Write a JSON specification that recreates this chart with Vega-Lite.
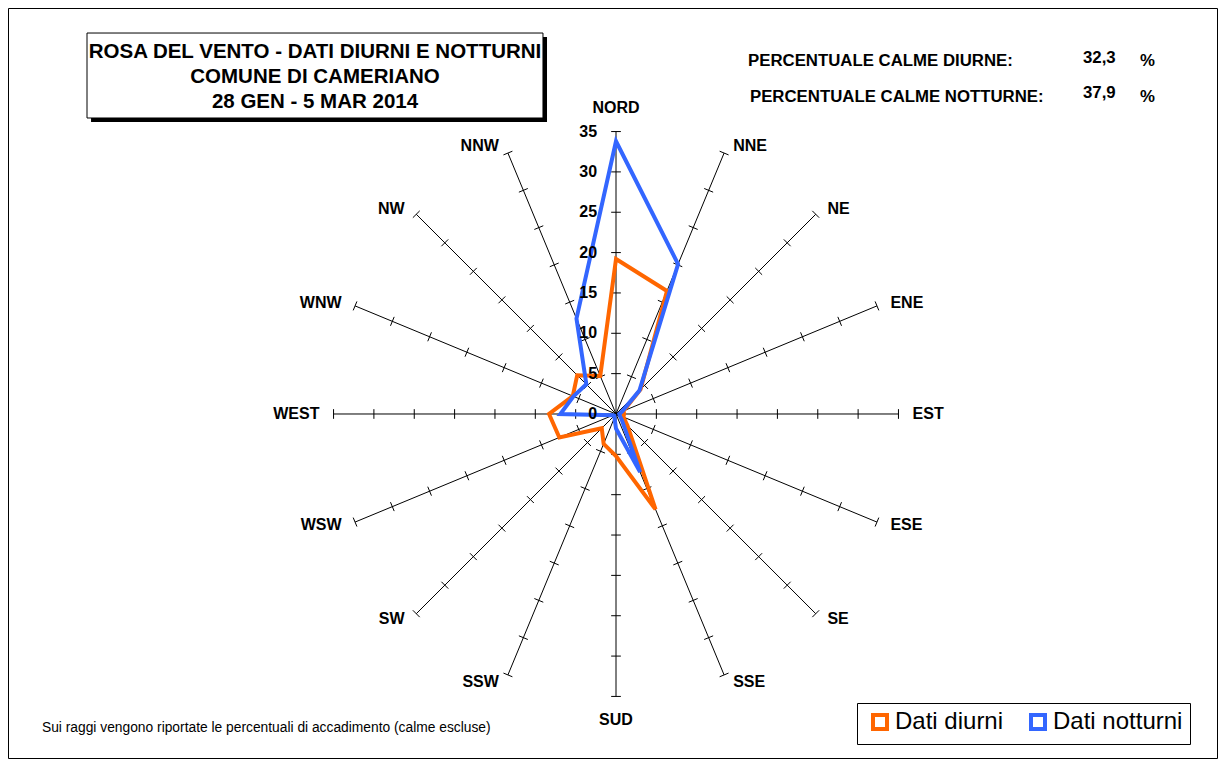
{
  "$schema": "https://vega.github.io/schema/vega-lite/v6.json",
  "width": 1209,
  "height": 750,
  "autosize": {"type": "none"},
  "padding": {"left": 8, "top": 8, "right": 2, "bottom": 2},
  "background": "white",
  "config": {"view": {"stroke": "black", "strokeWidth": 1}, "text": {"font": "Liberation Sans", "color": "black"}},
  "datasets": {
    "dirs": [
      {"i": 0, "dir": "NORD", "angle": 0, "diurni": 19.2, "notturni": 33.8, "tk": [5, 10, 15, 20, 25, 30, 35]},
      {"i": 1, "dir": "NNE", "angle": 22.5, "diurni": 16.5, "notturni": 20.1, "tk": [5, 10, 15, 20, 25, 30, 35]},
      {"i": 2, "dir": "NE", "angle": 45, "diurni": 4.3, "notturni": 4.1, "tk": [5, 10, 15, 20, 25, 30, 35]},
      {"i": 3, "dir": "ENE", "angle": 67.5, "diurni": 1.0, "notturni": 0.8, "tk": [5, 10, 15, 20, 25, 30, 35]},
      {"i": 4, "dir": "EST", "angle": 90, "diurni": 1.0, "notturni": 0.4, "tk": [5, 10, 15, 20, 25, 30, 35]},
      {"i": 5, "dir": "ESE", "angle": 112.5, "diurni": 1.0, "notturni": 0.5, "tk": [5, 10, 15, 20, 25, 30, 35]},
      {"i": 6, "dir": "SE", "angle": 135, "diurni": 2.0, "notturni": 1.0, "tk": [5, 10, 15, 20, 25, 30, 35]},
      {"i": 7, "dir": "SSE", "angle": 157.5, "diurni": 12.8, "notturni": 7.8, "tk": [5, 10, 15, 20, 25, 30, 35]},
      {"i": 8, "dir": "SUD", "angle": 180, "diurni": 5.2, "notturni": 1.8, "tk": [5, 10, 15, 20, 25, 30, 35]},
      {"i": 9, "dir": "SSW", "angle": 202.5, "diurni": 4.0, "notturni": 0.5, "tk": [5, 10, 15, 20, 25, 30, 35]},
      {"i": 10, "dir": "SW", "angle": 225, "diurni": 2.5, "notturni": 0.3, "tk": [5, 10, 15, 20, 25, 30, 35]},
      {"i": 11, "dir": "WSW", "angle": 247.5, "diurni": 7.6, "notturni": 0.4, "tk": [5, 10, 15, 20, 25, 30, 35]},
      {"i": 12, "dir": "WEST", "angle": 270, "diurni": 8.3, "notturni": 6.9, "tk": [5, 10, 15, 20, 25, 30, 35]},
      {"i": 13, "dir": "WNW", "angle": 292.5, "diurni": 5.8, "notturni": 5.7, "tk": [5, 10, 15, 20, 25, 30, 35]},
      {"i": 14, "dir": "NW", "angle": 315, "diurni": 6.8, "notturni": 5.2, "tk": [5, 10, 15, 20, 25, 30, 35]},
      {"i": 15, "dir": "NNW", "angle": 337.5, "diurni": 5.1, "notturni": 12.8, "tk": [5, 10, 15, 20, 25, 30, 35]}
    ],
    "scalelabels": [{"v": 0}, {"v": 5}, {"v": 10}, {"v": 15}, {"v": 20}, {"v": 25}, {"v": 30}, {"v": 35}]
  },
  "layer": [
    {
      "data": {"name": "dirs"},
      "transform": [
        {"calculate": "0", "as": "ox"},
        {"calculate": "0", "as": "oy"},
        {"calculate": "35 * sin(datum.angle * PI / 180)", "as": "ex"},
        {"calculate": "35 * cos(datum.angle * PI / 180)", "as": "ey"}
      ],
      "mark": {"type": "rule", "color": "black", "strokeWidth": 1},
      "encoding": {
        "x": {"field": "ox", "type": "quantitative", "scale": {"domain": [-75.34, 74.47], "nice": false, "zero": false}, "axis": null},
        "y": {"field": "oy", "type": "quantitative", "scale": {"domain": [-42.63, 50.31], "nice": false, "zero": false}, "axis": null},
        "x2": {"field": "ex"},
        "y2": {"field": "ey"}
      }
    },
    {
      "data": {"name": "dirs"},
      "transform": [
        {"flatten": ["tk"]},
        {"calculate": "datum.tk * sin(datum.angle * PI / 180) - 0.6 * cos(datum.angle * PI / 180)", "as": "ax"},
        {"calculate": "datum.tk * cos(datum.angle * PI / 180) + 0.6 * sin(datum.angle * PI / 180)", "as": "ay"},
        {"calculate": "datum.tk * sin(datum.angle * PI / 180) + 0.6 * cos(datum.angle * PI / 180)", "as": "bx"},
        {"calculate": "datum.tk * cos(datum.angle * PI / 180) - 0.6 * sin(datum.angle * PI / 180)", "as": "by"}
      ],
      "mark": {"type": "rule", "color": "black", "strokeWidth": 1},
      "encoding": {
        "x": {"field": "ax", "type": "quantitative", "scale": {"domain": [-75.34, 74.47], "nice": false, "zero": false}, "axis": null},
        "y": {"field": "ay", "type": "quantitative", "scale": {"domain": [-42.63, 50.31], "nice": false, "zero": false}, "axis": null},
        "x2": {"field": "bx"},
        "y2": {"field": "by"}
      }
    },
    {
      "data": {"name": "dirs"},
      "transform": [
        {"fold": ["diurni", "notturni"], "as": ["serie", "v"]},
        {"calculate": "datum.v * sin(datum.angle * PI / 180)", "as": "px"},
        {"calculate": "datum.v * cos(datum.angle * PI / 180)", "as": "py"}
      ],
      "mark": {"type": "line", "interpolate": "linear-closed", "strokeWidth": 4, "strokeJoin": "miter"},
      "encoding": {
        "x": {"field": "px", "type": "quantitative", "scale": {"domain": [-75.34, 74.47], "nice": false, "zero": false}, "axis": null},
        "y": {"field": "py", "type": "quantitative", "scale": {"domain": [-42.63, 50.31], "nice": false, "zero": false}, "axis": null},
        "order": {"field": "i", "type": "quantitative"},
        "color": {
          "field": "serie",
          "type": "nominal",
          "scale": {"domain": ["diurni", "notturni"], "range": ["#FF6600", "#3366FF"]},
          "legend": {
            "orient": "none",
            "legendX": 849,
            "legendY": 695,
            "direction": "horizontal",
            "title": null,
            "symbolType": "square",
            "symbolSize": 196,
            "symbolStrokeWidth": 4,
            "symbolFillColor": "white",
            "symbolOpacity": 1,
            "symbolOffset": 4,
            "labelFontSize": 24,
            "labelFont": "Liberation Sans",
            "labelColor": "black",
            "labelOffset": 3,
            "columnPadding": 18,
            "strokeColor": "black",
            "fillColor": "white",
            "padding": 7,
            "labelExpr": "datum.label == 'diurni' ? 'Dati diurni' : 'Dati notturni'"
          }
        }
      }
    },
    {
      "data": {"name": "scalelabels"},
      "transform": [{"calculate": "-2.35", "as": "lx"}],
      "mark": {"type": "text", "align": "right", "baseline": "middle", "fontWeight": "bold", "fontSize": 16},
      "encoding": {
        "x": {"field": "lx", "type": "quantitative", "scale": {"domain": [-75.34, 74.47], "nice": false, "zero": false}, "axis": null},
        "y": {"field": "v", "type": "quantitative", "scale": {"domain": [-42.63, 50.31], "nice": false, "zero": false}, "axis": null},
        "text": {"field": "v", "type": "quantitative"}
      }
    },
    {
      "data": {"name": "dirs"},
      "transform": [
        {"filter": "datum.angle > 0 && datum.angle < 180"},
        {"calculate": "36 * sin(datum.angle * PI / 180)", "as": "lx"},
        {"calculate": "36 * cos(datum.angle * PI / 180)", "as": "ly"}
      ],
      "mark": {"type": "text", "align": "left", "baseline": "middle", "dx": 6, "fontWeight": "bold", "fontSize": 16},
      "encoding": {
        "x": {"field": "lx", "type": "quantitative", "scale": {"domain": [-75.34, 74.47], "nice": false, "zero": false}, "axis": null},
        "y": {"field": "ly", "type": "quantitative", "scale": {"domain": [-42.63, 50.31], "nice": false, "zero": false}, "axis": null},
        "text": {"field": "dir", "type": "nominal"}
      }
    },
    {
      "data": {"name": "dirs"},
      "transform": [
        {"filter": "datum.angle > 180"},
        {"calculate": "36 * sin(datum.angle * PI / 180)", "as": "lx"},
        {"calculate": "36 * cos(datum.angle * PI / 180)", "as": "ly"}
      ],
      "mark": {"type": "text", "align": "right", "baseline": "middle", "dx": -6, "fontWeight": "bold", "fontSize": 16},
      "encoding": {
        "x": {"field": "lx", "type": "quantitative", "scale": {"domain": [-75.34, 74.47], "nice": false, "zero": false}, "axis": null},
        "y": {"field": "ly", "type": "quantitative", "scale": {"domain": [-42.63, 50.31], "nice": false, "zero": false}, "axis": null},
        "text": {"field": "dir", "type": "nominal"}
      }
    },
    {
      "data": {"name": "dirs"},
      "transform": [
        {"filter": "datum.angle == 0 || datum.angle == 180"},
        {"calculate": "37.9 * sin(datum.angle * PI / 180)", "as": "lx"},
        {"calculate": "37.9 * cos(datum.angle * PI / 180)", "as": "ly"}
      ],
      "mark": {"type": "text", "align": "center", "baseline": "middle", "fontWeight": "bold", "fontSize": 16},
      "encoding": {
        "x": {"field": "lx", "type": "quantitative", "scale": {"domain": [-75.34, 74.47], "nice": false, "zero": false}, "axis": null},
        "y": {"field": "ly", "type": "quantitative", "scale": {"domain": [-42.63, 50.31], "nice": false, "zero": false}, "axis": null},
        "text": {"field": "dir", "type": "nominal"}
      }
    },
    {
      "data": {"values": [{}]},
      "mark": {"type": "rect", "fill": "black"},
      "encoding": {
        "x": {"datum": -65.05, "type": "quantitative", "scale": {"domain": [-75.34, 74.47], "nice": false, "zero": false}, "axis": null},
        "x2": {"datum": -8.55},
        "y": {"datum": 46.71, "type": "quantitative", "scale": {"domain": [-42.63, 50.31], "nice": false, "zero": false}, "axis": null},
        "y2": {"datum": 36.18}
      }
    },
    {
      "data": {"values": [{}]},
      "mark": {"type": "rect", "fill": "white", "stroke": "black", "strokeWidth": 1},
      "encoding": {
        "x": {"datum": -65.55, "type": "quantitative", "scale": {"domain": [-75.34, 74.47], "nice": false, "zero": false}, "axis": null},
        "x2": {"datum": -9.05},
        "y": {"datum": 47.21, "type": "quantitative", "scale": {"domain": [-42.63, 50.31], "nice": false, "zero": false}, "axis": null},
        "y2": {"datum": 36.68}
      }
    },
    {
      "data": {"values": [{}]},
      "mark": {"type": "text", "lineHeight": 25, "align": "center", "baseline": "middle", "fontWeight": "bold", "fontSize": 20.5},
      "encoding": {
        "x": {"datum": -37.3, "type": "quantitative", "scale": {"domain": [-75.34, 74.47], "nice": false, "zero": false}, "axis": null},
        "y": {"datum": 44.86, "type": "quantitative", "scale": {"domain": [-42.63, 50.31], "nice": false, "zero": false}, "axis": null},
        "text": {"value": ["ROSA DEL VENTO - DATI DIURNI E NOTTURNI", "COMUNE DI CAMERIANO", "28 GEN - 5 MAR 2014"]}
      }
    },
    {
      "data": {"values": [{"t": "PERCENTUALE CALME DIURNE:"}]},
      "mark": {"type": "text", "align": "left", "baseline": "middle", "fontWeight": "bold", "fontSize": 16.8},
      "encoding": {
        "x": {"datum": 16.36, "type": "quantitative", "scale": {"domain": [-75.34, 74.47], "nice": false, "zero": false}, "axis": null},
        "y": {"datum": 43.74, "type": "quantitative", "scale": {"domain": [-42.63, 50.31], "nice": false, "zero": false}, "axis": null},
        "text": {"field": "t", "type": "nominal"}
      }
    },
    {
      "data": {"values": [{"t": "PERCENTUALE CALME NOTTURNE:"}]},
      "mark": {"type": "text", "align": "left", "baseline": "middle", "fontWeight": "bold", "fontSize": 16.8},
      "encoding": {
        "x": {"datum": 16.6, "type": "quantitative", "scale": {"domain": [-75.34, 74.47], "nice": false, "zero": false}, "axis": null},
        "y": {"datum": 39.28, "type": "quantitative", "scale": {"domain": [-42.63, 50.31], "nice": false, "zero": false}, "axis": null},
        "text": {"field": "t", "type": "nominal"}
      }
    },
    {
      "data": {"values": [{"t": "32,3"}]},
      "mark": {"type": "text", "align": "left", "baseline": "middle", "fontWeight": "bold", "fontSize": 16.8},
      "encoding": {
        "x": {"datum": 57.87, "type": "quantitative", "scale": {"domain": [-75.34, 74.47], "nice": false, "zero": false}, "axis": null},
        "y": {"datum": 44.11, "type": "quantitative", "scale": {"domain": [-42.63, 50.31], "nice": false, "zero": false}, "axis": null},
        "text": {"field": "t", "type": "nominal"}
      }
    },
    {
      "data": {"values": [{"t": "37,9"}]},
      "mark": {"type": "text", "align": "left", "baseline": "middle", "fontWeight": "bold", "fontSize": 16.8},
      "encoding": {
        "x": {"datum": 57.87, "type": "quantitative", "scale": {"domain": [-75.34, 74.47], "nice": false, "zero": false}, "axis": null},
        "y": {"datum": 39.78, "type": "quantitative", "scale": {"domain": [-42.63, 50.31], "nice": false, "zero": false}, "axis": null},
        "text": {"field": "t", "type": "nominal"}
      }
    },
    {
      "data": {"values": [{"t": "%"}]},
      "mark": {"type": "text", "align": "left", "baseline": "middle", "fontWeight": "bold", "fontSize": 16.8},
      "encoding": {
        "x": {"datum": 64.93, "type": "quantitative", "scale": {"domain": [-75.34, 74.47], "nice": false, "zero": false}, "axis": null},
        "y": {"datum": 43.74, "type": "quantitative", "scale": {"domain": [-42.63, 50.31], "nice": false, "zero": false}, "axis": null},
        "text": {"field": "t", "type": "nominal"}
      }
    },
    {
      "data": {"values": [{"t": "%"}]},
      "mark": {"type": "text", "align": "left", "baseline": "middle", "fontWeight": "bold", "fontSize": 16.8},
      "encoding": {
        "x": {"datum": 64.93, "type": "quantitative", "scale": {"domain": [-75.34, 74.47], "nice": false, "zero": false}, "axis": null},
        "y": {"datum": 39.28, "type": "quantitative", "scale": {"domain": [-42.63, 50.31], "nice": false, "zero": false}, "axis": null},
        "text": {"field": "t", "type": "nominal"}
      }
    },
    {
      "data": {"values": [{"t": "Sui raggi vengono riportate le percentuali di accadimento (calme escluse)"}]},
      "mark": {"type": "text", "align": "left", "baseline": "middle", "fontSize": 13.8},
      "encoding": {
        "x": {"datum": -71.13, "type": "quantitative", "scale": {"domain": [-75.34, 74.47], "nice": false, "zero": false}, "axis": null},
        "y": {"datum": -38.91, "type": "quantitative", "scale": {"domain": [-42.63, 50.31], "nice": false, "zero": false}, "axis": null},
        "text": {"field": "t", "type": "nominal"}
      }
    }
  ]
}
